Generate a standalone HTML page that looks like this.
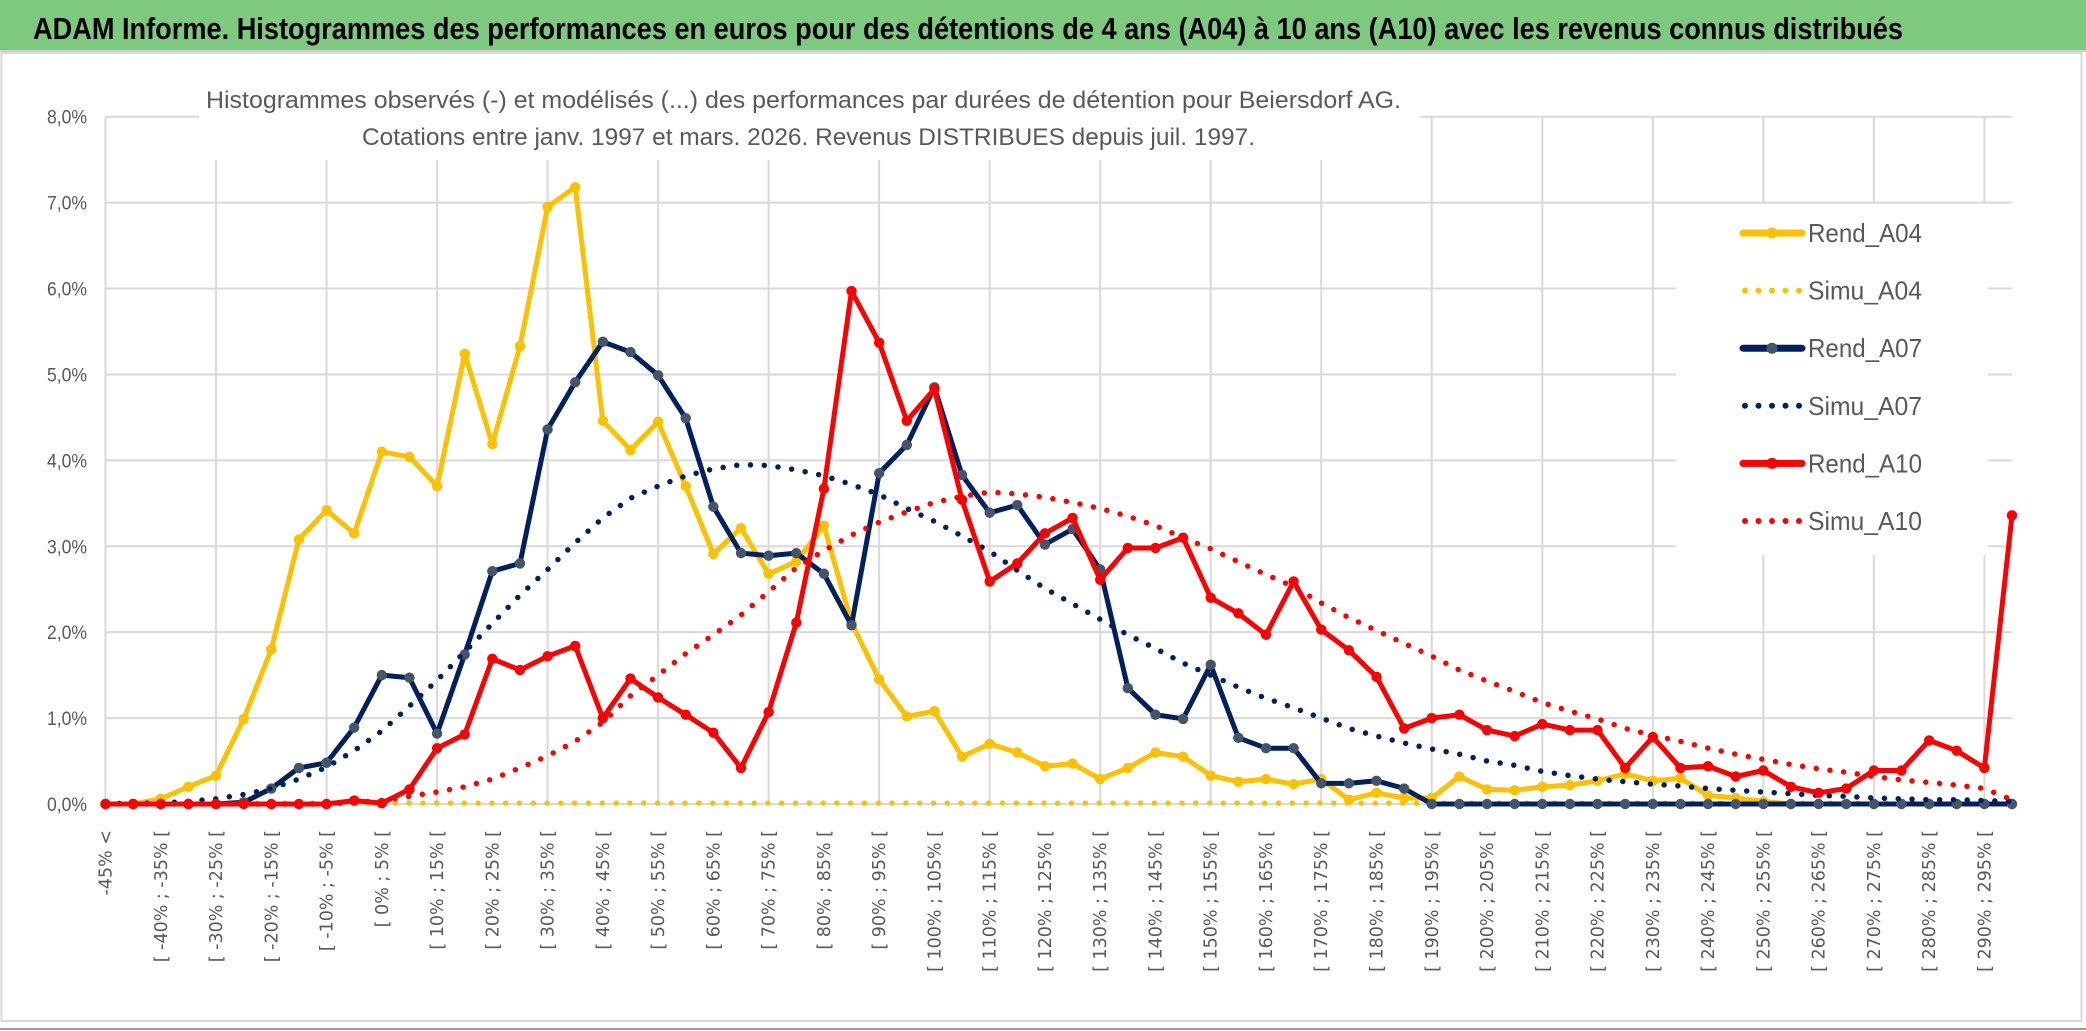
<!DOCTYPE html>
<html><head><meta charset="utf-8">
<style>
html,body{margin:0;padding:0;background:#fff;}
svg{display:block;}
</style></head>
<body>
<svg id="chart" width="2086" height="1031" viewBox="0 0 2086 1031" xmlns="http://www.w3.org/2000/svg">
  <rect x="0" y="0" width="2086" height="1031" fill="#ffffff"/>
  <rect x="0" y="0" width="2086" height="50" fill="#7dc97d"/>
  <line x1="0" y1="51" x2="2086" y2="51" stroke="#d0d0d0" stroke-width="2"/>
  <text x="33" y="39" font-family="'Liberation Sans', sans-serif" font-weight="bold" font-size="31" fill="#000" textLength="1870" lengthAdjust="spacingAndGlyphs">ADAM Informe. Histogrammes des performances en euros pour des détentions de 4 ans (A04) à 10 ans (A10) avec les revenus connus distribués</text>
  <rect x="1.5" y="53" width="2080" height="968" fill="none" stroke="#d9d9d9" stroke-width="2"/>
  <line x1="0" y1="1029" x2="2086" y2="1029" stroke="#9a9a9a" stroke-width="2"/>
  <g id="grid"></g>
  <g id="ylabels"></g>
  <g id="xlabels"></g>
  <rect x="199" y="62" width="1221" height="98" fill="#ffffff"/>
  <text x="206" y="108" font-family="'Liberation Sans', sans-serif" font-size="24" fill="#595959" textLength="1195" lengthAdjust="spacingAndGlyphs">Histogrammes observés (-) et modélisés (...) des performances par durées de détention pour Beiersdorf AG.</text>
  <text x="362" y="145" font-family="'Liberation Sans', sans-serif" font-size="24" fill="#595959" textLength="893" lengthAdjust="spacingAndGlyphs">Cotations entre janv. 1997 et mars. 2026. Revenus DISTRIBUES depuis juil. 1997.</text>
  <g id="series"></g>
  <rect x="1676" y="204" width="312" height="351" fill="#ffffff"/>
  <g id="legend"></g>
</svg>
<script>
const categoryCount = 70;
const yTicks = [0,1,2,3,4,5,6,7,8];
const yTickLabels = ["0,0%","1,0%","2,0%","3,0%","4,0%","5,0%","6,0%","7,0%","8,0%"];
const seriesNames = ["Rend_A04","Simu_A04","Rend_A07","Simu_A07","Rend_A10","Simu_A10"];
const rendA04 = [0,0,0.06,0.2,0.33,0.99,1.8,3.08,3.42,3.15,4.1,4.04,3.7,5.24,4.19,5.33,6.95,7.18,4.46,4.12,4.45,3.7,2.91,3.21,2.68,2.82,3.24,2.11,1.45,1.02,1.08,0.55,0.7,0.6,0.44,0.47,0.29,0.42,0.6,0.55,0.33,0.26,0.29,0.23,0.29,0.05,0.13,0.07,0.07,0.32,0.17,0.16,0.2,0.22,0.27,0.35,0.27,0.3,0.1,0.07,0.03,0,0,0,0,0,0,0,0,0];
const simuA04 = [0.01,0.01,0.01,0.01,0.01,0.01,0.01,0.01,0.01,0.01,0.01,0.01,0.01,0.01,0.01,0.01,0.01,0.01,0.01,0.01,0.01,0.01,0.01,0.01,0.01,0.01,0.01,0.01,0.01,0.01,0.01,0.01,0.01,0.01,0.01,0.01,0.01,0.01,0.01,0.01,0.01,0.01,0.01,0.01,0.01,0.01,0.01,0.01,0.01,0.01,0.01,0.01,0.01,0.01,0.01,0.01,0.01,0.01,0.01,0.01,0.01,0.01,0.01,0.01,0.01,0.01,0.01,0.01,0.01,0.01];
const rendA07 = [0,0,0,0,0,0.02,0.18,0.42,0.48,0.89,1.5,1.47,0.82,1.74,2.71,2.8,4.36,4.91,5.38,5.26,4.99,4.49,3.46,2.92,2.89,2.92,2.68,2.08,3.85,4.18,4.85,3.83,3.39,3.48,3.02,3.2,2.73,1.35,1.04,0.99,1.62,0.77,0.65,0.65,0.24,0.24,0.27,0.18,0,0,0,0,0,0,0,0,0,0,0,0,0,0,0,0,0,0,0,0,0,0];
const simuA07 = [0,0.01,0.01,0.03,0.06,0.11,0.18,0.29,0.43,0.62,0.85,1.14,1.44,1.77,2.1,2.43,2.73,3.04,3.33,3.56,3.7,3.82,3.9,3.95,3.94,3.89,3.82,3.72,3.6,3.44,3.29,3.12,2.94,2.72,2.51,2.33,2.15,1.97,1.81,1.64,1.5,1.36,1.23,1.12,1.0,0.88,0.79,0.71,0.64,0.58,0.5,0.45,0.38,0.33,0.29,0.26,0.23,0.21,0.18,0.16,0.14,0.12,0.1,0.09,0.07,0.06,0.05,0.05,0.04,0.03];
const rendA10 = [0,0,0,0,0,0,0,0,0,0.04,0.01,0.17,0.65,0.81,1.69,1.56,1.72,1.84,1.0,1.46,1.24,1.04,0.83,0.42,1.07,2.11,3.67,5.97,5.37,4.46,4.83,3.54,2.59,2.8,3.15,3.33,2.61,2.98,2.98,3.1,2.4,2.22,1.97,2.59,2.03,1.79,1.48,0.88,1.0,1.04,0.86,0.79,0.93,0.86,0.86,0.42,0.78,0.42,0.44,0.32,0.39,0.2,0.13,0.18,0.39,0.39,0.74,0.62,0.42,3.36];
const simuA10 = [0,0,0,0,0,0,0,0,0,0.02,0.04,0.09,0.14,0.2,0.29,0.42,0.56,0.73,0.95,1.26,1.5,1.75,1.97,2.2,2.47,2.75,2.95,3.13,3.28,3.4,3.51,3.58,3.63,3.61,3.57,3.51,3.44,3.35,3.24,3.1,2.97,2.82,2.67,2.53,2.34,2.17,2.02,1.87,1.72,1.56,1.43,1.31,1.18,1.08,0.99,0.88,0.8,0.73,0.65,0.58,0.52,0.46,0.41,0.37,0.32,0.28,0.25,0.22,0.18,0.05];

const NS = "http://www.w3.org/2000/svg";
const X0 = 105.5, X1 = 2012, Y0 = 804, Y8 = 116.7;
function xPos(i){ return X0 + (X1 - X0) * i / (categoryCount - 1); }
function yPos(v){ return Y0 - (Y0 - Y8) * v / 8; }
function mk(tag, attrs, parent){ const e = document.createElementNS(NS, tag); for (const k in attrs) e.setAttribute(k, attrs[k]); parent.appendChild(e); return e; }
function catLabel(i){
  if (i === 0) return "-45% <";
  const a = -45 + 5 * (i - 1), b = a + 5;
  return "[ " + a + "% ; " + b + "% [";
}

const grid = document.getElementById('grid');
yTicks.forEach(t => {
  const l = mk('line', {x1: X0, x2: X1, y1: yPos(t), y2: yPos(t), stroke: '#d9d9d9', 'stroke-width': 2}, grid);
  
  
});
for (let i = 0; i < categoryCount; i += 4) {
  const l = mk('line', {x1: xPos(i), x2: xPos(i), y1: yPos(8), y2: yPos(0), stroke: '#d9d9d9', 'stroke-width': 2}, grid);
  
  
}
const yl = document.getElementById('ylabels');
yTicks.forEach((t, k) => {
  const tx = mk('text', {x: 87, y: yPos(t) + 7, 'text-anchor': 'end', 'font-family': "'Liberation Sans', sans-serif", 'font-size': 19, fill: '#595959', textLength: 40, lengthAdjust: 'spacingAndGlyphs'}, yl);
  tx.textContent = yTickLabels[k];
  
  
});
const xl = document.getElementById('xlabels');
for (let i = 0; i < categoryCount; i += 2) {
  const x = xPos(i) + 6, y = 830;
  const tx = mk('text', {x: x, y: y, 'text-anchor': 'end', transform: 'rotate(-90 ' + x + ' ' + y + ')', 'font-family': "'DejaVu Sans', sans-serif", 'font-size': 17.5, fill: '#595959'}, xl);
  tx.textContent = catLabel(i);
  
  
}

const styles = [
  {data: rendA04, color: '#FFC000', marker: '#FFC000', solid: true},
  {data: simuA04, color: '#FFC000', solid: false},
  {data: rendA07, color: '#002060', marker: '#44546A', solid: true},
  {data: simuA07, color: '#002060', solid: false},
  {data: rendA10, color: '#FF0000', marker: '#FF0000', solid: true},
  {data: simuA10, color: '#FF0000', solid: false}
];
const sg = document.getElementById('series');
styles.forEach((s, si) => {
  const g = mk('g', {}, sg);
  
  
  const pts = s.data.map((v, i) => xPos(i).toFixed(1) + ',' + yPos(v).toFixed(1)).join(' ');
  const attrs = {points: pts, fill: 'none', stroke: s.color, 'stroke-linejoin': 'round'};
  if (s.solid) { attrs['stroke-width'] = 5; }
  else { attrs['stroke-width'] = 5.5; attrs['stroke-dasharray'] = '0 13.8'; attrs['stroke-linecap'] = 'round'; }
  const pl = mk('polyline', attrs, g);
  
  
  if (s.solid) {
    s.data.forEach((v, i) => {
      const c = mk('circle', {cx: xPos(i), cy: yPos(v), r: 5.2, fill: s.marker}, g);
      
      
    });
  }
});

const lg = document.getElementById('legend');
styles.forEach((s, si) => {
  const y = 233 + si * 57.6;
  const g = mk('g', {}, lg);
  
  
  if (s.solid) {
    const l = mk('line', {x1: 1743, x2: 1802, y1: y, y2: y, stroke: s.color, 'stroke-width': 7, 'stroke-linecap': 'round'}, g);
    
    
    const c = mk('circle', {cx: 1772, cy: y, r: 5.5, fill: s.marker}, g);
    
    
  } else {
    const l = mk('line', {x1: 1745, x2: 1800, y1: y, y2: y, stroke: s.color, 'stroke-width': 6, 'stroke-dasharray': '0 13.5', 'stroke-linecap': 'round'}, g);
    
    
  }
  const t = mk('text', {x: 1808, y: y + 9, 'font-family': "'Liberation Sans', sans-serif", 'font-size': 26, fill: '#595959', textLength: 114, lengthAdjust: 'spacingAndGlyphs'}, g);
  t.textContent = seriesNames[si];
  
  
});
</script>
</body></html>
